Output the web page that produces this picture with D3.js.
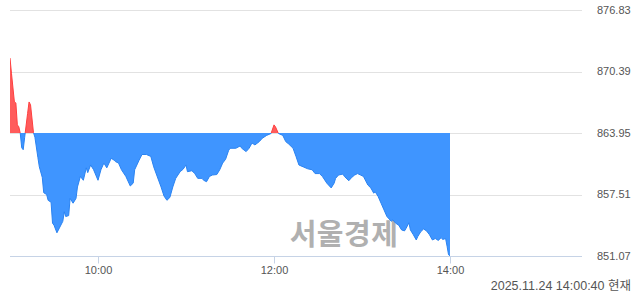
<!DOCTYPE html>
<html>
<head>
<meta charset="utf-8">
<style>
  html, body { margin: 0; padding: 0; background: #fff; }
  svg { display: block; font-family: 'Liberation Sans', Arial, 'Noto Sans CJK KR', sans-serif; }
</style>
<script src="https://cdn.jsdelivr.net/npm/d3@7"></script>
</head>
<body>
<svg id="chart" width="640" height="294"></svg>
<script>
(function () {
  'use strict';

  var baseValue = 863.95;
  var yTicks = [851.07, 857.51, 863.95, 870.39, 876.83];
  var xTicks = ['10:00', '12:00', '14:00'];
  var sessionStart = '09:00';
  var sessionEnd = '15:30';
  var stampText = '2025.11.24 14:00:40 현재';
  var watermarkText = '서울경제';

  var times = [
    '09:00', '09:01', '09:03', '09:04', '09:05', '09:06', '09:07', '09:08', '09:09', '09:10',
    '09:12', '09:13', '09:14', '09:16', '09:17', '09:19', '09:20', '09:22', '09:23', '09:25',
    '09:26', '09:28', '09:29', '09:30', '09:32', '09:34', '09:36', '09:37', '09:38', '09:40',
    '09:41', '09:43', '09:45', '09:46', '09:48', '09:50', '09:52', '09:53', '09:55', '09:57',
    '10:00', '10:02', '10:04', '10:06', '10:09', '10:11', '10:12', '10:14', '10:16', '10:19',
    '10:22', '10:24', '10:25', '10:28', '10:30', '10:33', '10:36', '10:38', '10:40', '10:43',
    '10:45', '10:47', '10:49', '10:51', '10:53', '10:56', '10:58', '11:00', '11:01', '11:04',
    '11:06', '11:08', '11:11', '11:12', '11:14', '11:16', '11:18', '11:21', '11:23', '11:25',
    '11:27', '11:29', '11:30', '11:34', '11:37', '11:38', '11:41', '11:43', '11:45', '11:47',
    '11:50', '11:52', '11:55', '11:58', '12:00', '12:01', '12:03', '12:06', '12:08', '12:10',
    '12:13', '12:15', '12:17', '12:20', '12:23', '12:26', '12:28', '12:31', '12:33', '12:36',
    '12:39', '12:41', '12:42', '12:44', '12:47', '12:48', '12:51', '12:53', '12:55', '12:57',
    '12:59', '13:01', '13:04', '13:06', '13:08', '13:09', '13:11', '13:13', '13:15', '13:17',
    '13:20', '13:21', '13:23', '13:25', '13:27', '13:29', '13:30', '13:32', '13:33', '13:35',
    '13:37', '13:38', '13:40', '13:42', '13:44', '13:46', '13:48', '13:50', '13:52', '13:54',
    '13:55', '13:57', '13:58', '13:59', '14:00'
  ];

  var values = [
    871.8, 870.2, 867.2, 867.1, 864.8, 864.6, 863.9, 862.4, 862.2, 863.5,
    866.0, 867.2, 866.9, 864.0, 863.5, 861.4, 860.4, 859.3, 857.7, 857.5,
    856.9, 856.7, 854.5, 854.3, 853.5, 854.1, 854.7, 855.7, 855.2, 855.3,
    857.1, 856.6, 857.1, 858.3, 859.4, 859.0, 860.3, 859.8, 860.6, 860.1,
    859.0, 860.1, 860.8, 860.3, 861.3, 861.1, 860.95, 860.8, 860.1, 859.4,
    858.4, 858.7, 860.1, 861.1, 861.7, 861.7, 861.5, 860.4, 859.55, 858.3,
    857.35, 856.9, 857.2, 858.3, 859.2, 859.9, 860.15, 860.6, 859.9, 860.0,
    859.7, 859.2, 859.2, 859.0, 858.85, 859.4, 859.55, 859.6, 860.1, 860.8,
    861.2, 862.1, 862.35, 862.35, 862.6, 862.35, 862.0, 862.35, 862.9, 862.7,
    863.05, 863.4, 863.7, 863.9, 864.8, 864.6, 863.9, 863.7, 863.05, 862.8,
    862.35, 861.5, 860.6, 860.4, 860.2, 860.1, 859.7, 859.7, 859.4, 858.7,
    858.2, 858.7, 859.2, 859.55, 859.65, 859.4, 858.95, 859.3, 859.55, 859.7,
    859.55, 859.4, 858.5, 858.2, 857.65, 857.8, 857.3, 856.6, 855.9, 855.2,
    854.7, 854.85, 854.5, 854.3, 853.8, 853.7, 853.95, 854.55, 853.8, 853.3,
    852.75, 853.1, 853.6, 853.9, 853.7, 853.3, 852.75, 852.9, 852.7, 853.0,
    852.8, 852.9, 852.1, 851.2, 851.1
  ];

  var parseTime = d3.timeParse('%H:%M');
  var data = times.map(function (t, i) { return { t: parseTime(t), v: values[i] }; });

  var svg = d3.select('#chart');
  var left = 10, right = 582, top = 10, bottom = 256;

  var x = d3.scaleTime()
    .domain([parseTime(sessionStart), parseTime(sessionEnd)])
    .range([left, right]);

  var y = d3.scaleLinear()
    .domain([yTicks[0], yTicks[yTicks.length - 1]])
    .range([bottom, top]);

  var baseY = y(baseValue);

  // grid
  svg.append('g')
    .selectAll('line')
    .data(yTicks.slice(1))
    .enter()
    .append('line')
    .attr('x1', left)
    .attr('x2', right)
    .attr('y1', function (d) { return Math.round(y(d)) + 0.5; })
    .attr('y2', function (d) { return Math.round(y(d)) + 0.5; })
    .attr('stroke', '#e2e2e2')
    .attr('stroke-width', 1);

  // y labels
  svg.append('g')
    .selectAll('text')
    .data(yTicks)
    .enter()
    .append('text')
    .attr('x', 597)
    .attr('y', function (d) { return y(d); })
    .attr('dy', '0.35em')
    .attr('fill', '#555')
    .attr('font-size', '11px')
    .text(function (d) { return d.toFixed(2); });

  // watermark
  svg.append('text')
    .attr('x', 344)
    .attr('y', 245)
    .attr('text-anchor', 'middle')
    .attr('font-family', "'Noto Sans CJK KR', sans-serif")
    .attr('font-weight', 'bold')
    .attr('font-size', '29px')
    .attr('letter-spacing', '0.5px')
    .attr('fill', '#b0b0b0')
    .text(watermarkText);

  var defs = svg.append('defs');
  defs.append('clipPath').attr('id', 'clip-up')
    .append('rect')
    .attr('x', left).attr('y', 0)
    .attr('width', right - left).attr('height', baseY);
  defs.append('clipPath').attr('id', 'clip-down')
    .append('rect')
    .attr('x', left).attr('y', baseY)
    .attr('width', right - left).attr('height', 294 - baseY);

  var area = d3.area()
    .x(function (d) { return x(d.t); })
    .y0(baseY)
    .y1(function (d) { return y(d.v); });

  var line = d3.line()
    .x(function (d) { return x(d.t); })
    .y(function (d) { return y(d.v); });

  var parts = [
    { clip: 'clip-up', fill: '#ff5c5c', stroke: '#ff3f3f' },
    { clip: 'clip-down', fill: '#3f95ff', stroke: '#2a83f2' }
  ];

  parts.forEach(function (p) {
    var g = svg.append('g').attr('clip-path', 'url(#' + p.clip + ')');
    g.append('path')
      .datum(data)
      .attr('d', area)
      .attr('fill', p.fill);
    g.append('path')
      .datum(data)
      .attr('d', line)
      .attr('fill', 'none')
      .attr('stroke', p.stroke)
      .attr('stroke-width', 1);
  });

  // x axis
  var xAxis = d3.axisBottom(x)
    .tickValues(xTicks.map(parseTime))
    .tickFormat(d3.timeFormat('%H:%M'))
    .tickSize(7)
    .tickSizeOuter(0)
    .tickPadding(3);

  var ax = svg.append('g')
    .attr('transform', 'translate(0,' + (bottom + 0.5) + ')')
    .call(xAxis);
  ax.select('.domain').attr('stroke', '#c6d3e6').attr('d', 'M' + left + ',0H' + right);
  ax.selectAll('.tick line').attr('stroke', '#c6d3e6');
  ax.selectAll('.tick text')
    .attr('fill', '#555')
    .attr('font-size', '11px')
    .attr('font-family', "'Liberation Sans', Arial, sans-serif");

  // timestamp
  svg.append('text')
    .attr('x', 631)
    .attr('y', 290)
    .attr('text-anchor', 'end')
    .attr('fill', '#555')
    .attr('font-size', '12.5px')
    .text(stampText);

})();
</script>
</body>
</html>
